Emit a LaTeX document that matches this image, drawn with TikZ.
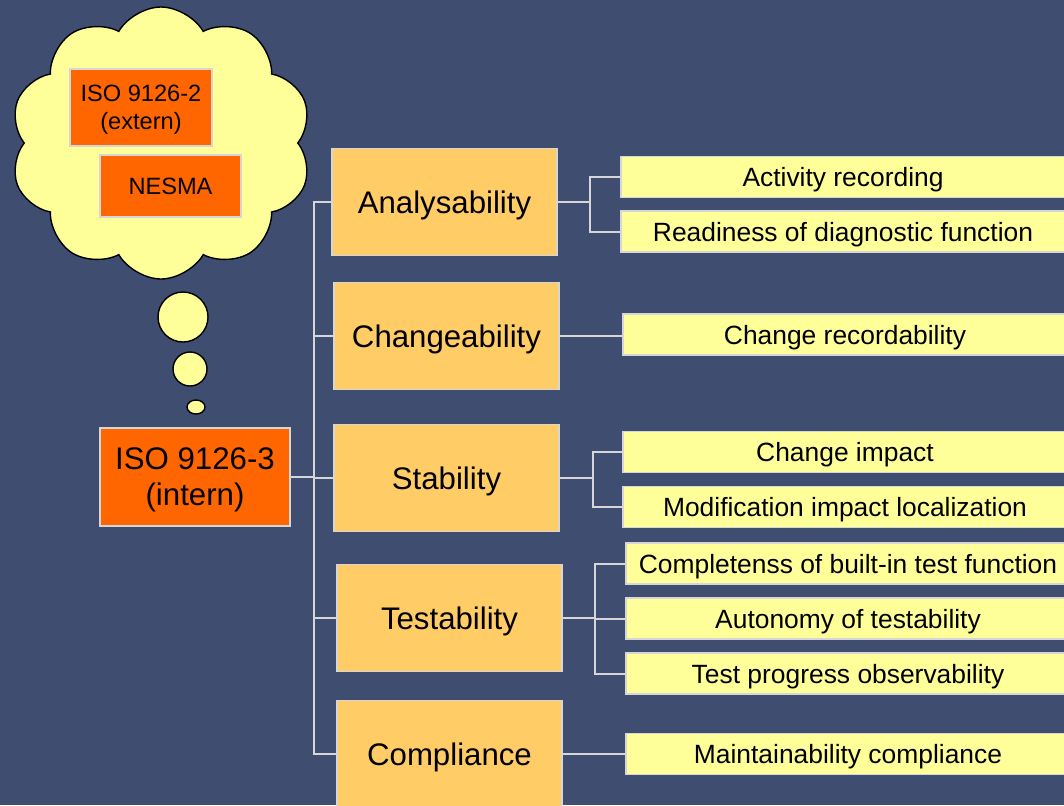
\documentclass[tikz,border=0pt]{standalone}
\usepackage{fontspec}
\setmainfont{Liberation Sans}
\usepackage{tikz}
\usetikzlibrary{shapes, positioning, calc}

\definecolor{slate}{RGB}{62,77,112}
\definecolor{isored}{RGB}{255,102,0}
\definecolor{mainfill}{RGB}{255,204,102}
\definecolor{leaffill}{RGB}{255,255,153}
\definecolor{boxline}{RGB}{214,214,214}

\tikzset{
	rootbox/.style = {draw=boxline, line width=0.8pt, fill=isored, inner sep=0pt, align=center, text depth=0pt,
		minimum width=95pt, minimum height=49pt, font=\fontsize{15.6}{18}\selectfont},
	isobox/.style = {draw=boxline, line width=0.8pt, fill=isored, inner sep=0pt, align=center, text depth=0pt,
		font=\fontsize{11.8}{14}\selectfont},
	mainbox/.style = {draw=boxline, line width=0.8pt, fill=mainfill, inner sep=0pt, align=center, text depth=0pt,
		minimum width=112.5pt, minimum height=53.5pt, font=\fontsize{15.6}{18}\selectfont},
	leafbox/.style = {draw=boxline, line width=0.8pt, fill=leaffill, inner sep=0pt, align=center, text depth=0pt,
		minimum width=222pt, minimum height=20.5pt, font=\fontsize{13.2}{15}\selectfont},
	thought/.style = {cloud, cloud puffs=10, cloud puff arc=120, draw=black, line width=0.7pt,
		fill=leaffill, minimum width=151pt, minimum height=136pt, aspect=1.1},
	bubble/.style = {draw=black, line width=0.7pt, fill=leaffill, inner sep=0pt},
	conn/.style = {draw=boxline, line width=1pt}
}

\begin{document}
\begin{tikzpicture}[x=0.5pt, y=-0.5pt]
	\fill[slate] (0,0) rectangle (1064,805);
	\useasboundingbox (0,0) rectangle (1064,805);
	\begin{scope}
		\clip (0,0) rectangle (1064,805);

		% thought cloud
		\node[thought] (cloud) at (161,143) {};
		\node[bubble, circle, minimum size=25pt] (bubA) at (183,317) {};
		\node[bubble, circle, minimum size=17pt] (bubB) at (190,369) {};
		\node[bubble, ellipse, minimum width=9pt, minimum height=7pt] (bubC) at (196,407) {};
		\node[isobox, minimum width=71pt, minimum height=38.5pt] (extern) at (141,107.5) {ISO 9126-2\\(extern)};
		\node[isobox, minimum width=70.5pt, minimum height=31pt] (nesma) at (170.5,186) {NESMA};

		% root and main characteristics
		\node[rootbox] (root) at (195,477) {ISO 9126-3\\(intern)};
		\node[mainbox] (ana) at (444.5,202) {Analysability};
		\node[mainbox] (cha) at (446.5,336) {Changeability};
		\node[mainbox] (sta) at (446.5,478) {Stability};
		\node[mainbox] (tes) at (449.5,618) {Testability};
		\node[mainbox] (com) at (449.5,754) {Compliance};

		% sub characteristics
		\node[leafbox] (act) at (843,177) {Activity recording};
		\node[leafbox] (rea) at (843,231.5) {Readiness of diagnostic function};
		\node[leafbox] (rec) at (845,334.5) {Change recordability};
		\node[leafbox] (imp) at (845,452) {Change impact};
		\node[leafbox] (mod) at (845,507) {Modification impact localization};
		\node[leafbox] (bui) at (848,563.5) {Completenss of built-in test function};
		\node[leafbox] (aut) at (848,618.5) {Autonomy of testability};
		\node[leafbox] (pro) at (848,673.5) {Test progress observability};
		\node[leafbox] (mai) at (848,754) {Maintainability compliance};

		% tree lines
		\foreach \m in {ana, cha, sta, tes, com}
			\draw[conn] (root.east) -- ++(23,0) |- (\m.west);
		\foreach \l in {act, rea}
			\draw[conn] (ana.east) -- ++(32,0) |- (\l.west);
		\draw[conn] (cha.east) -- (cha.east -| rec.west);
		\foreach \l in {imp, mod}
			\draw[conn] (sta.east) -- ++(33,0) |- (\l.west);
		\foreach \l in {bui, aut, pro}
			\draw[conn] (tes.east) -- ++(32,0) |- (\l.west);
		\draw[conn] (com.east) -- (com.east -| mai.west);
	\end{scope}
\end{tikzpicture}
\end{document}
